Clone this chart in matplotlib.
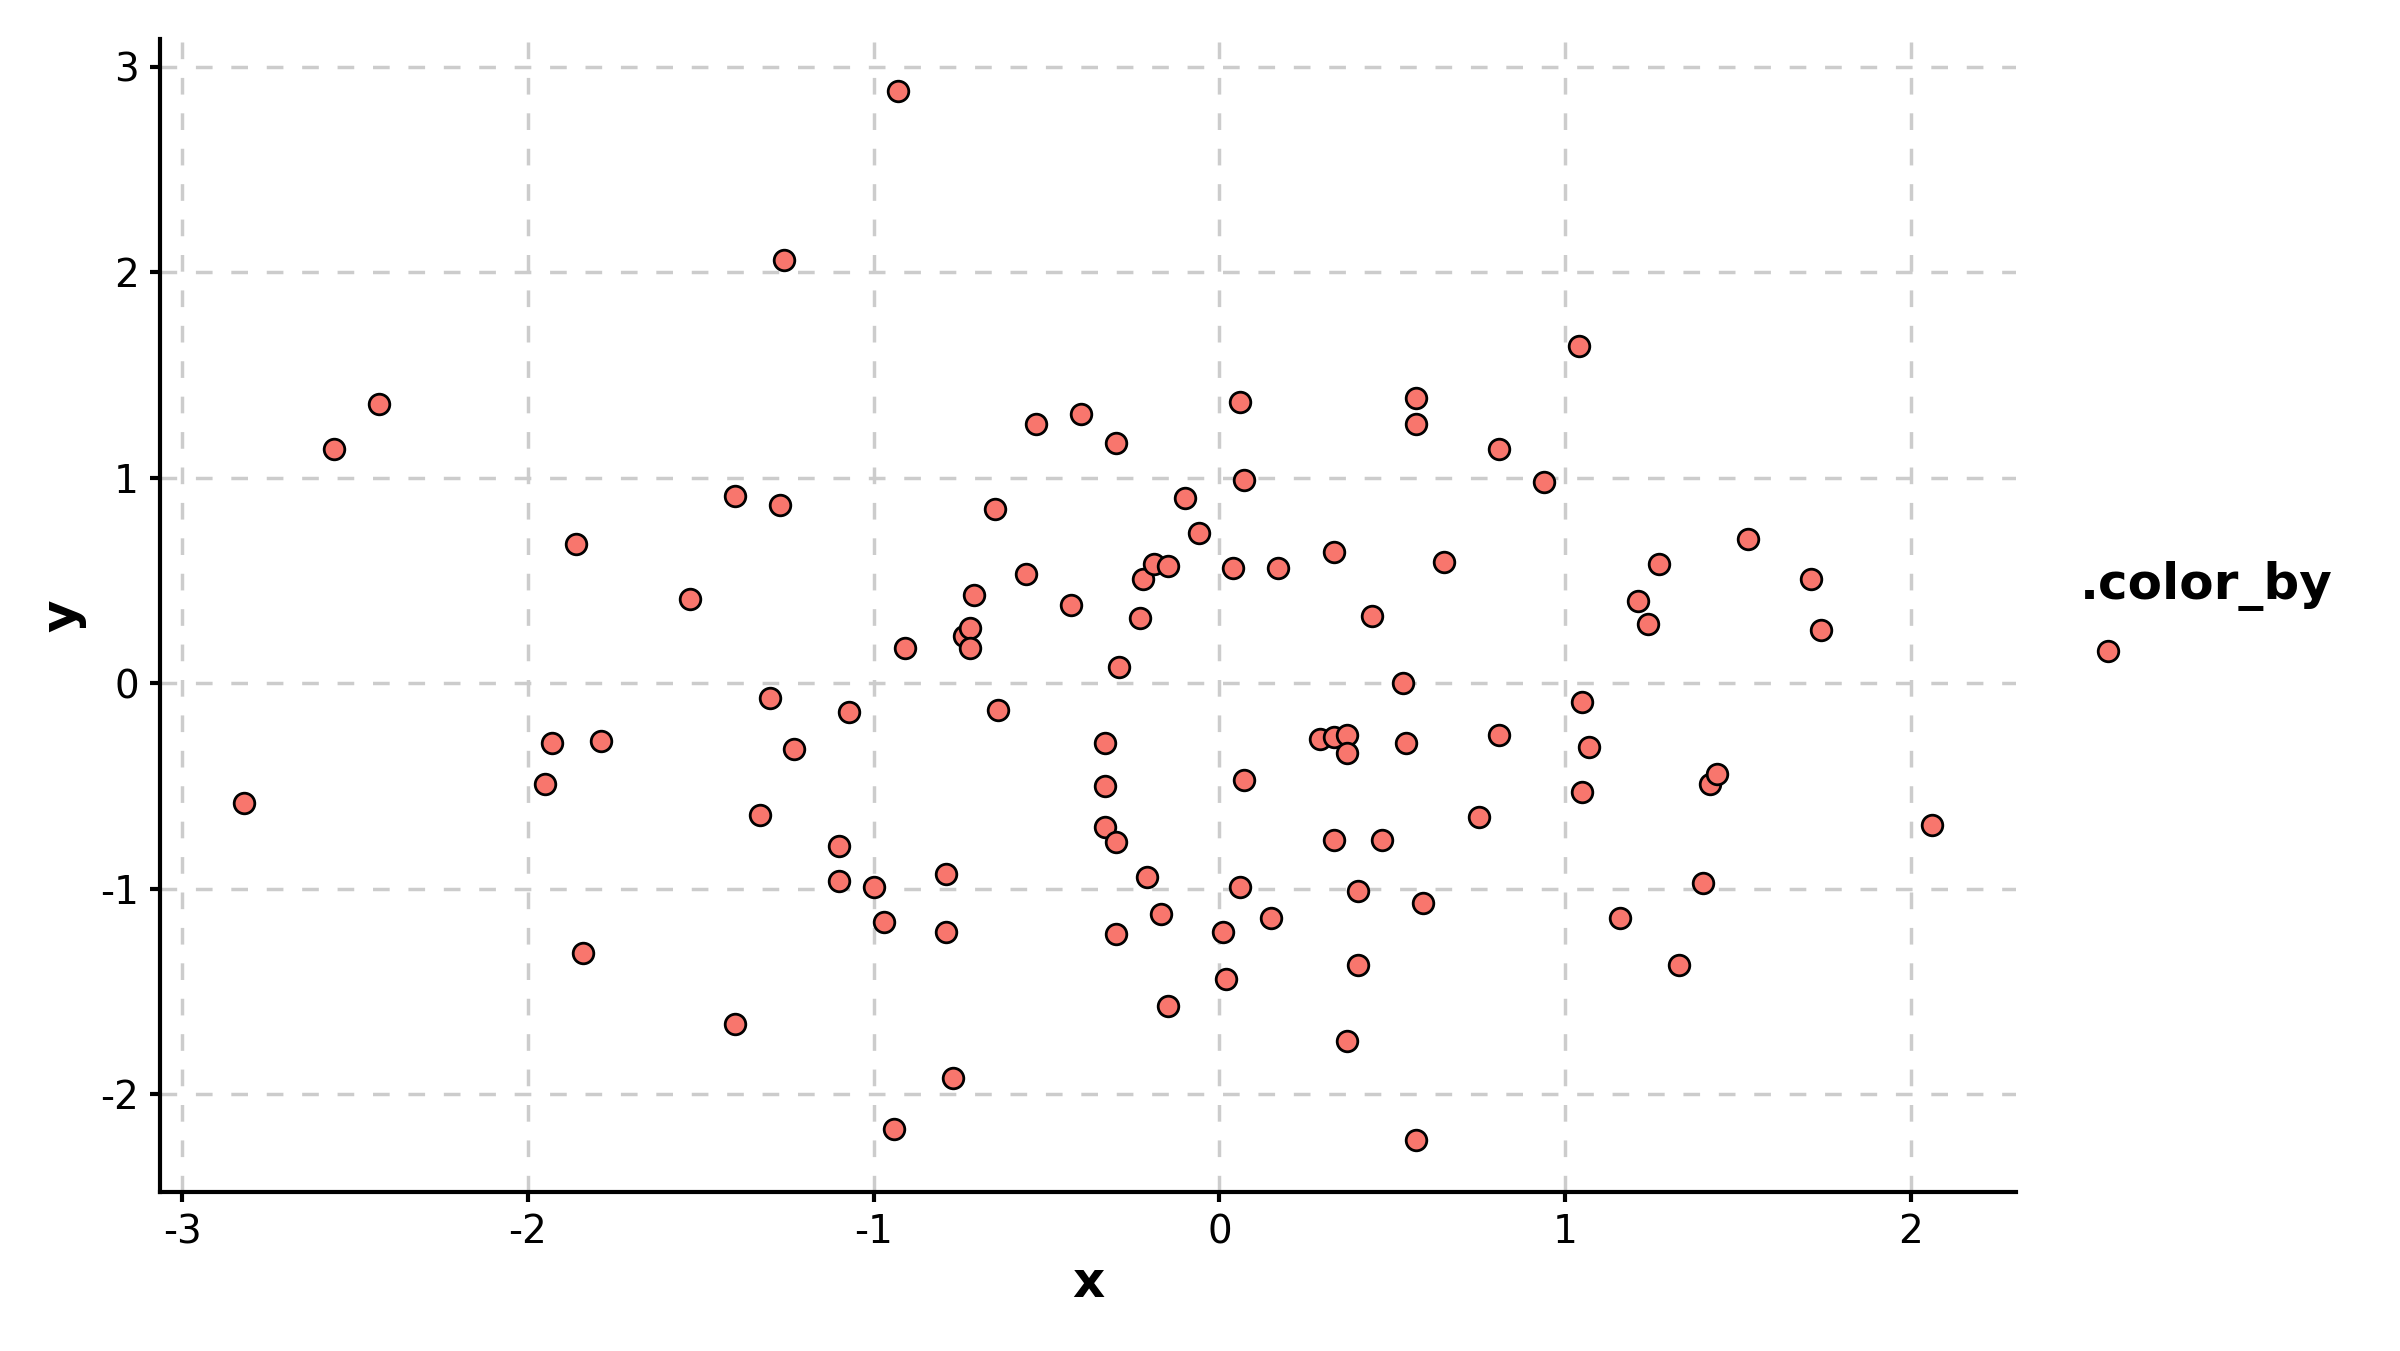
import matplotlib
matplotlib.use("Agg")
import matplotlib.pyplot as plt
from matplotlib.lines import Line2D
import numpy as np

x = [-2.82, -2.56, -2.43, -1.95, -1.93, -1.86, -1.84, -1.79, -1.53, -1.40,
     -1.40, -1.33, -1.30, -1.27, -1.26, -1.23, -1.10, -1.10, -1.07, -1.00,
     -0.97, -0.94, -0.93, -0.91, -0.79, -0.79, -0.77, -0.74, -0.72, -0.72,
     -0.71, -0.65, -0.64, -0.56, -0.53, -0.43, -0.40, -0.33, -0.33, -0.33,
     -0.30, -0.30, -0.30, -0.29, -0.23, -0.22, -0.21, -0.19, -0.15, -0.17,
     -0.15, -0.10, -0.06, 0.01, 0.02, 0.04, 0.06, 0.06, 0.07, 0.07,
     0.15, 0.17, 0.29, 0.33, 0.33, 0.33, 0.37, 0.37, 0.37, 0.40,
     0.40, 0.44, 0.47, 0.53, 0.54, 0.57, 0.57, 0.57, 0.59, 0.65,
     0.75, 0.81, 0.81, 0.94, 1.04, 1.05, 1.05, 1.07, 1.16, 1.21,
     1.24, 1.27, 1.33, 1.40, 1.42, 1.44, 1.53, 1.71, 1.74, 2.06]
y = [-0.58, 1.14, 1.36, -0.49, -0.29, 0.68, -1.31, -0.28, 0.41, 0.91,
     -1.66, -0.64, -0.07, 0.87, 2.06, -0.32, -0.79, -0.96, -0.14, -0.99,
     -1.16, -2.17, 2.88, 0.17, -0.93, -1.21, -1.92, 0.23, 0.27, 0.17,
     0.43, 0.85, -0.13, 0.53, 1.26, 0.38, 1.31, -0.70, -0.29, -0.50,
     1.17, -0.77, -1.22, 0.08, 0.32, 0.51, -0.94, 0.58, 0.57, -1.12,
     -1.57, 0.90, 0.73, -1.21, -1.44, 0.56, -0.99, 1.37, -0.47, 0.99,
     -1.14, 0.56, -0.27, -0.76, 0.64, -0.26, -0.25, -0.34, -1.74, -1.01,
     -1.37, 0.33, -0.76, 0.00, -0.29, 1.39, 1.26, -2.22, -1.07, 0.59,
     -0.65, 1.14, -0.25, 0.98, 1.64, -0.09, -0.53, -0.31, -1.14, 0.40,
     0.29, 0.58, -1.37, -0.97, -0.49, -0.44, 0.70, 0.51, 0.26, -0.69]
xticks = [-3, -2, -1, 0, 1, 2]
yticks = [-2, -1, 0, 1, 2, 3]
legend_title = ".color_by"

fill = "#F8766D"

fig = plt.figure(figsize=(12, 6.755), dpi=200)
ax = fig.add_axes([0.0667, 0.1177, 0.7733, 0.8534])

ax.scatter(x, y, s=55, c=fill, edgecolors="black", linewidths=1.0, zorder=3)

def expand(v):
    lo, hi = min(v), max(v)
    pad = 0.05 * (hi - lo)
    return lo - pad, hi + pad

ax.set_xlim(*expand(x))
ax.set_ylim(*expand(y))
ax.set_xticks(xticks)
ax.set_yticks(yticks)
ax.set_xticklabels([str(t) for t in xticks])
ax.set_yticklabels([str(t) for t in yticks])

ax.grid(True, color="#cccccc", linewidth=1.25, linestyle=(0, (4.8, 5.4)), zorder=0)
ax.set_axisbelow(True)
for s in ["top", "right"]:
    ax.spines[s].set_visible(False)
for s in ["left", "bottom"]:
    ax.spines[s].set_linewidth(1.5)
    ax.spines[s].set_color("black")
ax.tick_params(axis="both", length=3.6, width=1.5, labelsize=14, colors="black", pad=4)

ax.set_xlabel("x", fontsize=18, fontweight="bold", labelpad=3)
ax.set_ylabel("y", fontsize=18, fontweight="bold", labelpad=5)

handle = Line2D([], [], marker="o", linestyle="none", markersize=7.4,
                markerfacecolor=fill, markeredgecolor="black", markeredgewidth=1.0)
leg = fig.legend(handles=[handle], labels=[""], title=legend_title,
                 loc="upper left", bbox_to_anchor=(0.862, 0.593), frameon=False,
                 title_fontproperties={"weight": "bold", "size": 18},
                 alignment="left", handletextpad=0.0, borderaxespad=0.0,
                 labelspacing=1.0)

fig.savefig("out.png", dpi=200, facecolor="white")
